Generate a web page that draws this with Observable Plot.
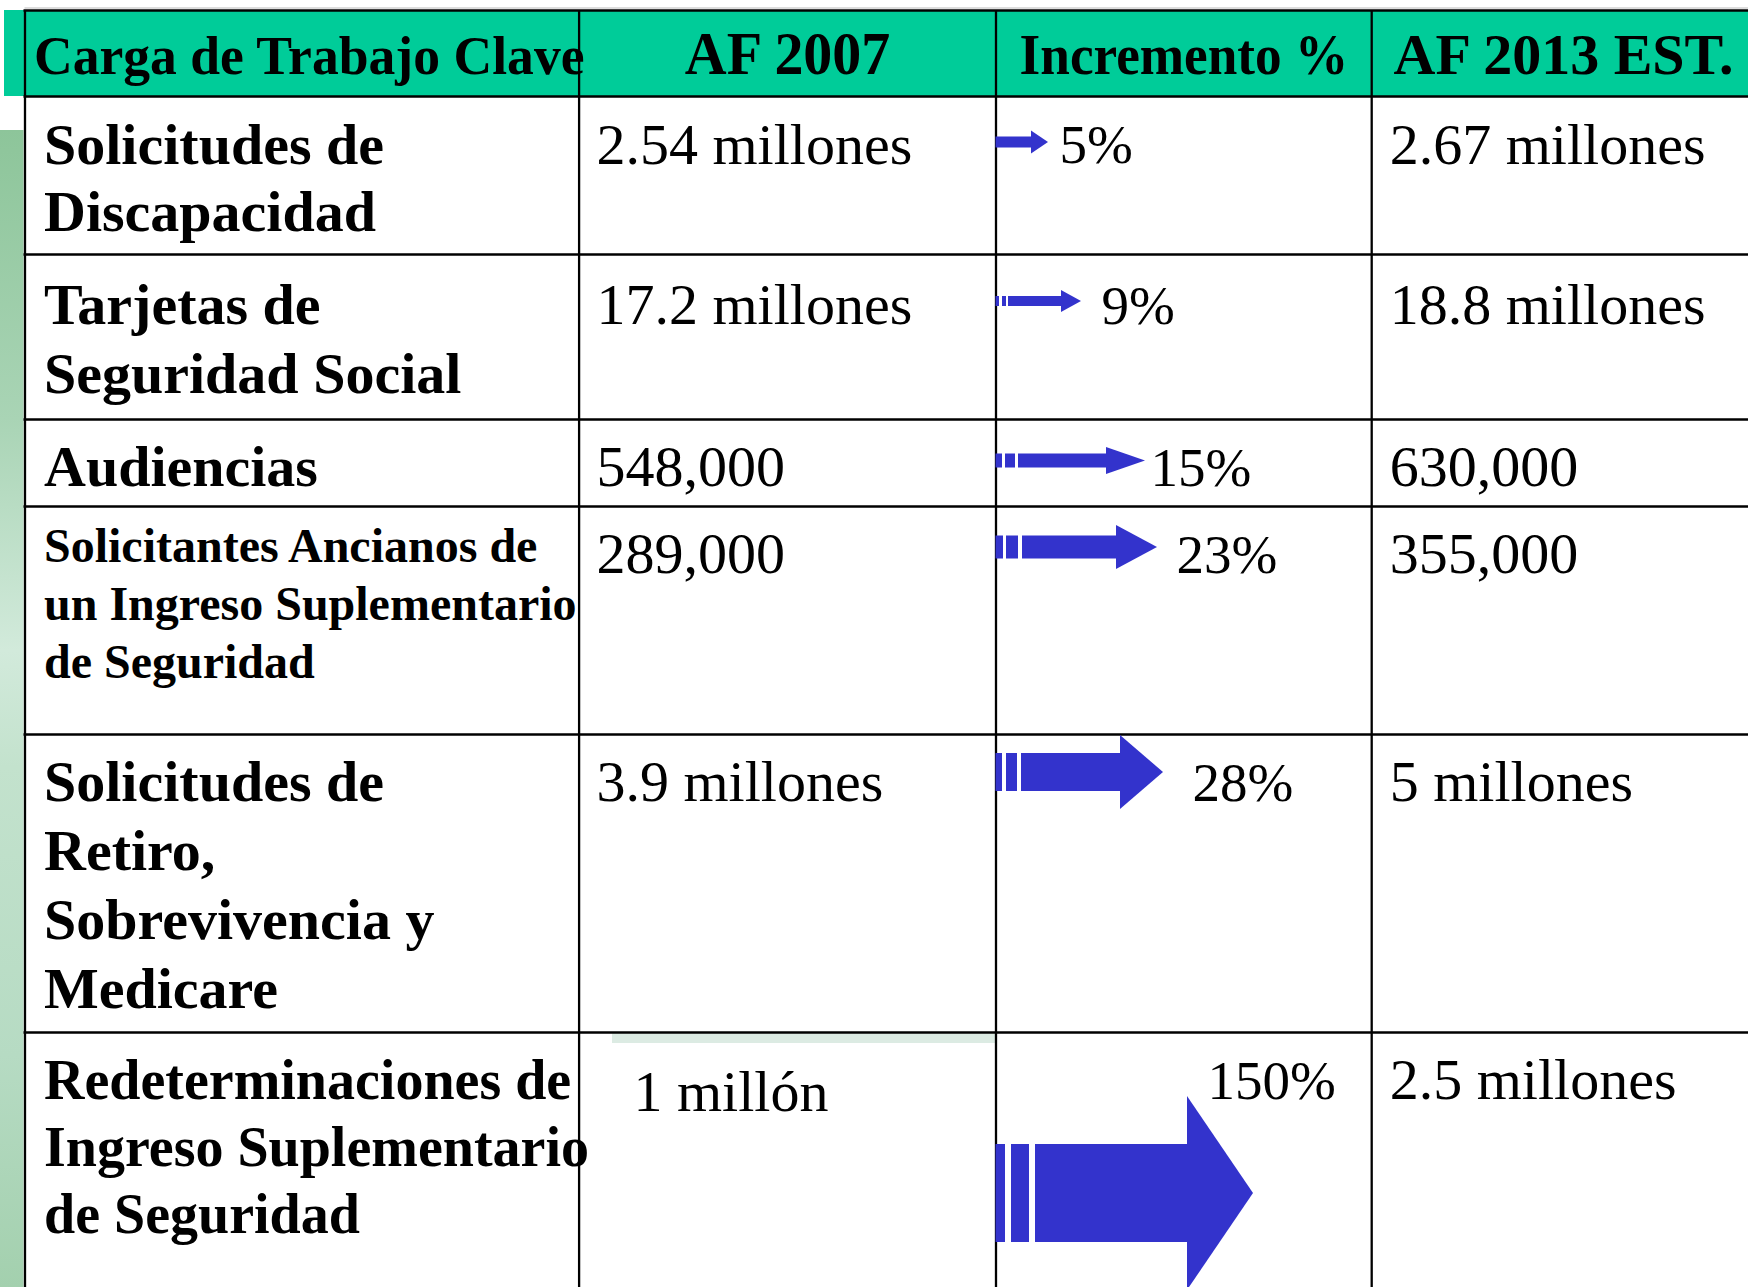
<!DOCTYPE html>
<html><head><meta charset="utf-8">
<script src="https://cdn.jsdelivr.net/npm/d3@7"></script>
<script src="https://cdn.jsdelivr.net/npm/@observablehq/plot@0.6"></script>
<style>
html,body{margin:0;padding:0;background:#fff;}
#chart{width:1748px;height:1287px;overflow:hidden;}
svg{display:block;}
</style></head><body><div id="chart"></div>
<script>
// ---------- DATA ----------
const headers = ["Carga de Trabajo Clave", "AF 2007", "Incremento %", "AF 2013 EST."];
const categories = [
  "Solicitudes de\nDiscapacidad",
  "Tarjetas de\nSeguridad Social",
  "Audiencias",
  "Solicitantes Ancianos de\nun Ingreso Suplementario\nde Seguridad",
  "Solicitudes de\nRetiro,\nSobrevivencia y\nMedicare",
  "Redeterminaciones de\nIngreso Suplementario\nde Seguridad"
];
const af2007 = ["2.54 millones", "17.2 millones", "548,000", "289,000", "3.9 millones", "1 millón"];
const increments = [5, 9, 15, 23, 28, 150];
const af2013 = ["2.67 millones", "18.8 millones", "630,000", "355,000", "5 millones", "2.5 millones"];

// ---------- LAYOUT / STYLE ----------
const W = 1748, H = 1287;
const colEdges = [24.5, 578.6, 995.5, 1371.2];
const tableTop = 10, headerBottom = 96;
const rowTops = [96, 254, 419, 506, 734, 1032];
const teal = "#00cc99", blue = "#3333cc", serif = "Liberation Serif, Times New Roman, serif";
const rowLayout = [
  {labelBase: 163, step: 67, labelSize: 58, valueBase: 163, valueX: 596, v13Base: 163, pctBase: 162, pctX: 1059},
  {labelBase: 323, step: 69, labelSize: 58, valueBase: 323, valueX: 596, v13Base: 323, pctBase: 323, pctX: 1101},
  {labelBase: 485, step: 67, labelSize: 58, valueBase: 485, valueX: 596, v13Base: 485, pctBase: 485, pctX: 1150},
  {labelBase: 561, step: 58, labelSize: 48, valueBase: 572, valueX: 596, v13Base: 572, pctBase: 572, pctX: 1176},
  {labelBase: 800, step: 69.3, labelSize: 58, valueBase: 800, valueX: 596, v13Base: 800, pctBase: 800, pctX: 1192},
  {labelBase: 1098, step: 67, labelSize: 56, valueBase: 1110, valueX: 633, v13Base: 1098, pctBase: 1098, pctX: 1207}
];
// arrow geometry, offsets from the Incremento column edge
const arrowLayout = [
  {stripes: [], shaft: 0, head: 35.5, tip: 52.5, cy: 142, sh: 5.5, hh: 11.5},
  {stripes: [[0, 3.5], [6.5, 10.5]], shaft: 12.5, head: 65.5, tip: 85.5, cy: 301, sh: 5, hh: 11},
  {stripes: [[0, 6.5], [9.5, 19.5]], shaft: 22.5, head: 110.5, tip: 149.5, cy: 460.5, sh: 7, hh: 13.5},
  {stripes: [[0, 7.5], [10.5, 22.5]], shaft: 26.5, head: 120.5, tip: 161.5, cy: 547, sh: 11.5, hh: 22},
  {stripes: [[0, 6.5], [10.5, 21.5]], shaft: 25.5, head: 124.5, tip: 167.5, cy: 772, sh: 19, hh: 37},
  {stripes: [[0, 9.5], [15.5, 33.5]], shaft: 39.5, head: 191.5, tip: 257.5, cy: 1193, sh: 49, hh: 97}
];
const headerCondense = {"Carga de Trabajo Clave": 0.975, "AF 2007": 0.95, "Incremento %": 0.95};

// ---------- DERIVED TABLES ----------
const labelLines = [];
categories.forEach((c, i) => c.split("\n").forEach((t, j) =>
  labelLines.push({text: t, x: colEdges[0] + 19, y: rowLayout[i].labelBase + j * rowLayout[i].step, size: rowLayout[i].labelSize})));
const values07 = af2007.map((t, i) => ({text: t, x: rowLayout[i].valueX, y: rowLayout[i].valueBase}));
const values13 = af2013.map((t, i) => ({text: t, x: colEdges[3] + 18, y: rowLayout[i].v13Base}));
const pcts = increments.map((v, i) => ({text: v + "%", x: rowLayout[i].pctX, y: rowLayout[i].pctBase}));
const x0 = colEdges[2];
const arrowRects = [];
const arrowHeads = [];
increments.forEach((v, i) => {
  const a = arrowLayout[i];
  a.stripes.forEach(([s, e]) => arrowRects.push({x1: x0 + s, x2: x0 + e, y1: a.cy - a.sh, y2: a.cy + a.sh}));
  arrowRects.push({x1: x0 + a.shaft, x2: x0 + a.head + 0.5, y1: a.cy - a.sh, y2: a.cy + a.sh});
  arrowHeads.push({row: i, x: x0 + a.head, top: a.cy - a.hh, bottom: a.cy + a.hh});
  arrowHeads.push({row: i, x: x0 + a.tip, top: a.cy, bottom: a.cy});
});
const headerStart = [{text: headers[0], x: 33.4, size: 55}, {text: headers[3], x: 1393, size: 58}];
const headerMid = [{text: headers[1], x: (colEdges[1] + colEdges[2]) / 2, size: 61}, {text: headers[2], x: (colEdges[2] + colEdges[3]) / 2, size: 56}];

const svg = Plot.plot({
  width: W, height: H, margin: 0,
  x: {domain: [0, W], range: [0, W], axis: null},
  y: {domain: [0, H], range: [0, H], axis: null},
  style: {background: "white", overflow: "hidden"},
  marks: [
    Plot.rect([{x1: 0, x2: colEdges[0] - 1, y1: 130, y2: H}], {x1: "x1", x2: "x2", y1: "y1", y2: "y2", fill: "url(#leftStrip)"}),
    Plot.rect([{x1: 4, x2: W, y1: tableTop, y2: headerBottom}], {x1: "x1", x2: "x2", y1: "y1", y2: "y2", fill: teal}),
    Plot.rect([{x1: 612, x2: colEdges[2], y1: rowTops[5] + 1.5, y2: rowTops[5] + 11}], {x1: "x1", x2: "x2", y1: "y1", y2: "y2", fill: "#dcebe3"}),
    Plot.ruleY([tableTop - 2.5], {y: d => d, x1: colEdges[0], x2: W, stroke: "#bbbbbb", strokeWidth: 1}),
    Plot.ruleY([tableTop, ...rowTops], {y: d => d, x1: colEdges[0] - 1, x2: W, stroke: "black", strokeWidth: 2.3}),
    Plot.ruleX(colEdges, {x: d => d, y1: tableTop, y2: H, stroke: "black", strokeWidth: 2.3}),
    Plot.rect(arrowRects, {x1: "x1", x2: "x2", y1: "y1", y2: "y2", fill: blue}),
    Plot.area(arrowHeads, {x1: "x", y1: "top", y2: "bottom", z: "row", fill: blue, curve: "linear"}),
    Plot.text(headerStart, {x: "x", y: () => 73, text: "text", fontSize: "size", fontWeight: "bold", fontFamily: serif, textAnchor: "start", lineAnchor: "bottom", fill: "black"}),
    Plot.text(headerMid, {x: "x", y: () => 73, text: "text", fontSize: "size", fontWeight: "bold", fontFamily: serif, textAnchor: "middle", lineAnchor: "bottom", fill: "black"}),
    Plot.text(labelLines, {x: "x", y: "y", text: "text", fontSize: "size", fontWeight: "bold", fontFamily: serif, textAnchor: "start", lineAnchor: "bottom", fill: "black"}),
    Plot.text(values07, {x: "x", y: "y", text: "text", fontSize: 58, fontFamily: serif, textAnchor: "start", lineAnchor: "bottom", fill: "black"}),
    Plot.text(values13, {x: "x", y: "y", text: "text", fontSize: 58, fontFamily: serif, textAnchor: "start", lineAnchor: "bottom", fill: "black"}),
    Plot.text(pcts, {x: "x", y: "y", text: "text", fontSize: 55, fontFamily: serif, textAnchor: "start", lineAnchor: "bottom", fill: "black"})
  ]
});

// gradient for the left decorative strip
const defs = d3.select(svg).insert("defs", ":first-child");
const grad = defs.append("linearGradient").attr("id", "leftStrip")
  .attr("gradientUnits", "userSpaceOnUse").attr("x1", 0).attr("x2", 0).attr("y1", 130).attr("y2", H);
[[0, "#8dc59a"], [0.25, "#a9d4b5"], [0.45, "#d2eadb"], [0.55, "#c3e2cd"], [0.8, "#b6dbc3"], [1, "#a3d0ae"]]
  .forEach(([o, c]) => grad.append("stop").attr("offset", o).attr("stop-color", c));

document.getElementById("chart").appendChild(svg);

// header text is set slightly condensed
d3.select(svg).selectAll("text").each(function () {
  const k = headerCondense[this.textContent];
  if (k) {
    const w = this.getComputedTextLength();
    this.setAttribute("textLength", w * k);
    this.setAttribute("lengthAdjust", "spacingAndGlyphs");
  }
});
</script></body></html>
